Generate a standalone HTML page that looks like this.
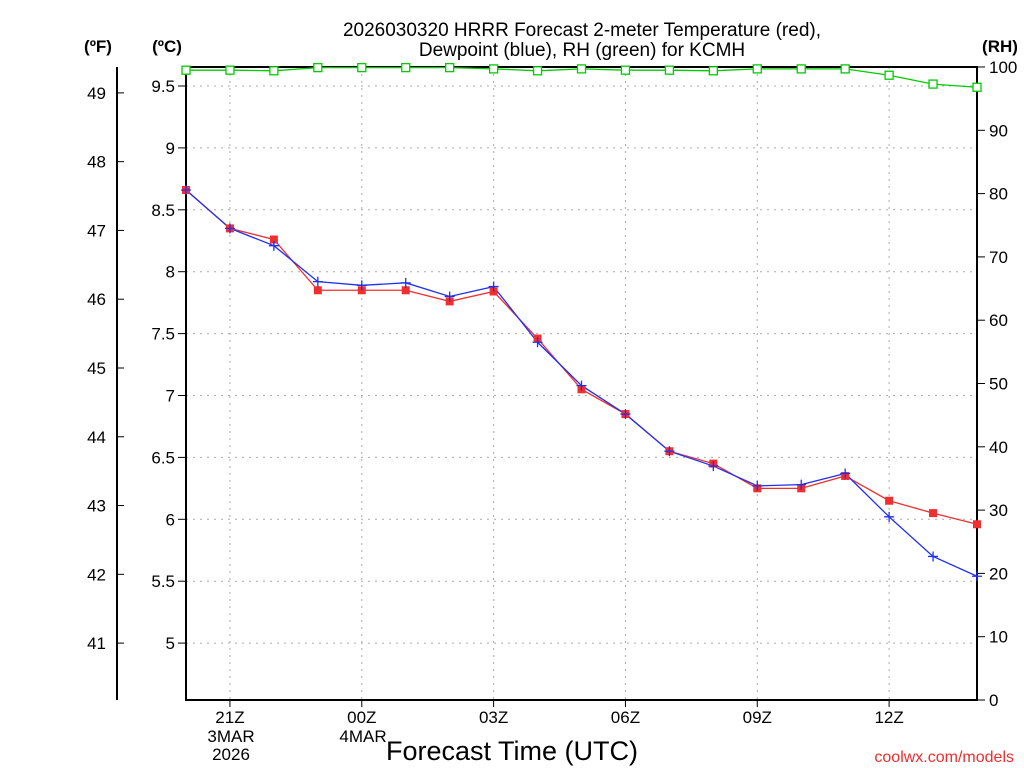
<!DOCTYPE html>
<html><head><meta charset="utf-8"><style>
body{margin:0;background:#fff;}
svg{display:block;font-family:"Liberation Sans",sans-serif;}
</style></head><body>
<svg id="c" width="1024" height="768" viewBox="0 0 1024 768">
<g id="grid"></g>
<g id="axes"></g>
<g id="series"></g>
<text x="582" y="36" font-size="19" text-anchor="middle">2026030320 HRRR Forecast 2-meter Temperature (red),</text>
<text x="582" y="56" font-size="19" text-anchor="middle">Dewpoint (blue), RH (green) for KCMH</text>
<text x="98" y="52" font-size="17" font-weight="bold" text-anchor="middle">(ºF)</text>
<text x="167" y="52" font-size="17" font-weight="bold" text-anchor="middle">(ºC)</text>
<text x="1000" y="52" font-size="17" font-weight="bold" text-anchor="middle">(RH)</text>
<text x="512" y="760" font-size="27" text-anchor="middle">Forecast Time (UTC)</text>
<text x="1014" y="762" font-size="16" fill="#e83030" text-anchor="end">coolwx.com/models</text>
</svg>
<script>
const hours=[20,21,22,23,0,1,2,3,4,5,6,7,8,9,10,11,12,13,14];
const tempC=[8.66,8.35,8.26,7.85,7.85,7.85,7.76,7.84,7.46,7.05,6.85,6.55,6.45,6.25,6.25,6.35,6.15,6.05,5.96];
const dewC=[8.66,8.35,8.21,7.92,7.89,7.91,7.80,7.88,7.43,7.08,6.85,6.55,6.43,6.27,6.28,6.37,6.02,5.70,5.54];
const rh=[99.5,99.5,99.4,99.9,99.9,99.9,99.9,99.7,99.4,99.7,99.5,99.5,99.4,99.7,99.7,99.7,98.7,97.3,96.8];
const cTicks=[5,5.5,6,6.5,7,7.5,8,8.5,9,9.5];
const fTicks=[41,42,43,44,45,46,47,48,49];
const rhTicks=[0,10,20,30,40,50,60,70,80,90,100];
const xTickIdx=[1,4,7,10,13,16];
const xTickLabels=["21Z","00Z","03Z","06Z","09Z","12Z"];
const L=186,R=977,T=67,B=700;
const NS="http://www.w3.org/2000/svg";
const xs=i=>L+i*(R-L)/(hours.length-1);
const yc=v=>86+(9.5-v)*123.8;
const yf=f=>yc((f-32)/1.8);
const yr=v=>B-v*(B-T)/100;
function mk(p,tag,a){const e=document.createElementNS(NS,tag);for(const k in a)e.setAttribute(k,a[k]);p.appendChild(e);return e;}
const grid=document.getElementById('grid'),axes=document.getElementById('axes'),ser=document.getElementById('series');
cTicks.forEach(v=>{const y=yc(v);
 const g=mk(grid,'line',{x1:L,x2:R,y1:y,y2:y,stroke:'#aaa','stroke-dasharray':'2,5'});
 
 mk(axes,'line',{x1:L-8,x2:L,y1:y,y2:y,stroke:'#000'});
 const t=mk(axes,'text',{x:L-11,y:y+6,'font-size':17,'text-anchor':'end'});t.textContent=String(v);
 });
fTicks.forEach(v=>{const y=yf(v);
 mk(axes,'line',{x1:117,x2:124,y1:y,y2:y,stroke:'#000'});
 const t=mk(axes,'text',{x:106,y:y+6,'font-size':17,'text-anchor':'end'});t.textContent=String(v);
 });
rhTicks.forEach(v=>{const y=yr(v);
 mk(axes,'line',{x1:R,x2:R+8,y1:y,y2:y,stroke:'#000'});
 const t=mk(axes,'text',{x:R+12,y:y+6,'font-size':17});t.textContent=String(v);
 });
xTickIdx.forEach((i,k)=>{const x=xs(i);
 const g=mk(grid,'line',{x1:x,x2:x,y1:T,y2:B,stroke:'#aaa','stroke-dasharray':'2,5'});
 
 mk(axes,'line',{x1:x,x2:x,y1:B,y2:B+7,stroke:'#000'});
 const t=mk(axes,'text',{x:x,y:723,'font-size':17,'text-anchor':'middle'});t.textContent=xTickLabels[k];
 });
[["3MAR",231,742],["2026",231,760],["4MAR",363,742]].forEach(d=>{const t=mk(axes,'text',{x:d[1],y:d[2],'font-size':17,'text-anchor':'middle'});t.textContent=d[0];
 });
mk(axes,'rect',{x:L,y:T,width:R-L,height:B-T,fill:'none',stroke:'#000','stroke-width':2});
mk(axes,'line',{x1:117,x2:117,y1:T,y2:B,stroke:'#000','stroke-width':2});
function line(vals,yfn,col,name){const p=mk(ser,'polyline',{points:vals.map((v,i)=>xs(i)+','+yfn(v)).join(' '),fill:'none',stroke:col,'stroke-width':1.3});
 }
line(rh,yr,'#00cc00','rh-line');line(tempC,yc,'#f03030','temperature-line');line(dewC,yc,'#2030f0','dewpoint-line');
rh.forEach((v,i)=>{const m=mk(ser,'rect',{x:xs(i)-4,y:yr(v)-4,width:8,height:8,fill:'#fff',stroke:'#00cc00','stroke-width':1.3});
 });
tempC.forEach((v,i)=>{const m=mk(ser,'rect',{x:xs(i)-4,y:yc(v)-4,width:8,height:8,fill:'#f03030'});
 });
dewC.forEach((v,i)=>{const x=xs(i),y=yc(v);const m=mk(ser,'path',{d:`M${x-5},${y}H${x+5}M${x},${y-5}V${y+5}`,stroke:'#2030f0','stroke-width':1.3});
 });
</script>
</body></html>
